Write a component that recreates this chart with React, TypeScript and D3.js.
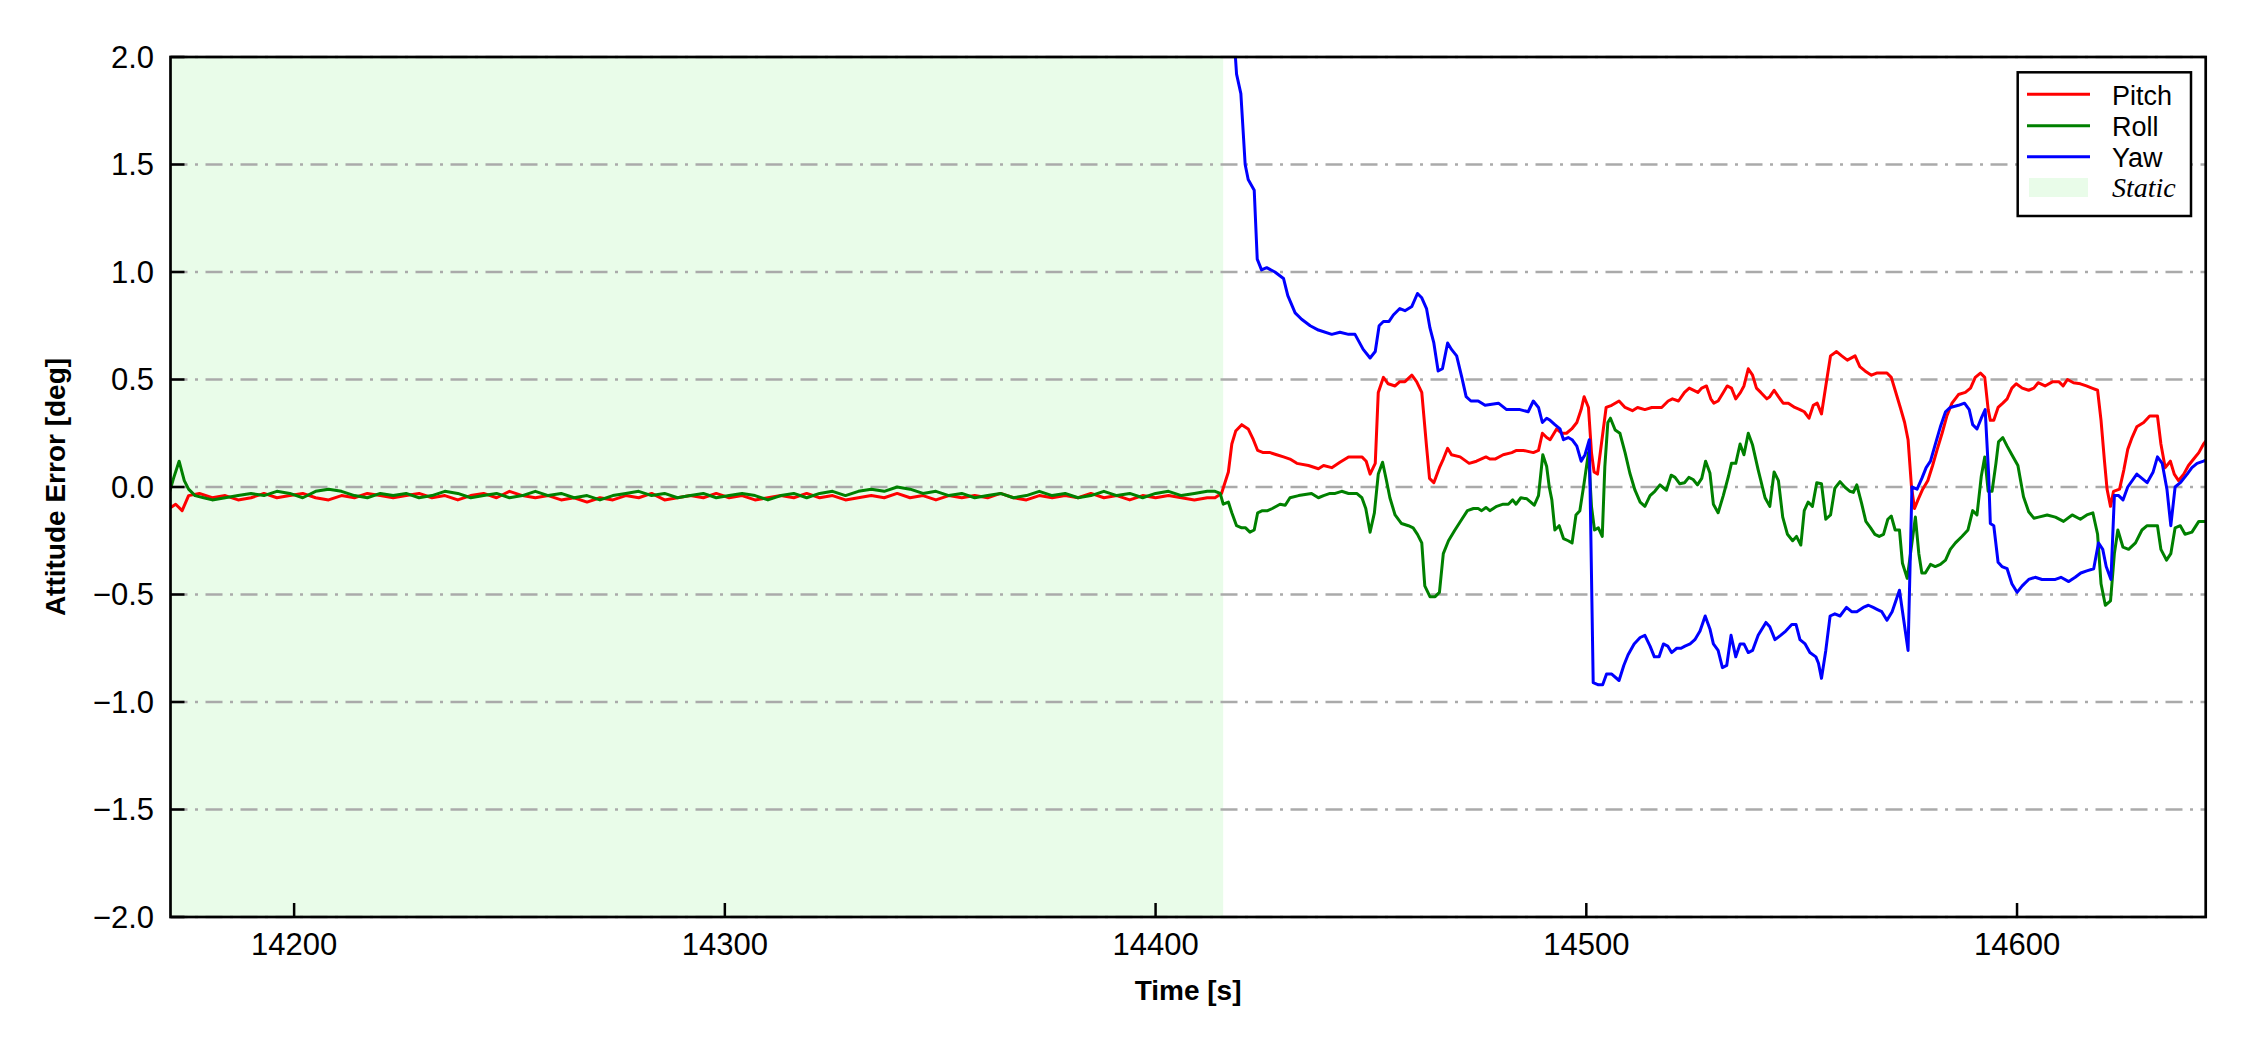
import React from "react";
import * as d3 from "d3";

type P = [number, number];

const xTicks = [14200, 14300, 14400, 14500, 14600];
const yTicks = [-2.0, -1.5, -1.0, -0.5, 0.0, 0.5, 1.0, 1.5, 2.0];
const staticSpan: P = [14171.3, 14415.7];
const xDomain: P = [14171.3, 14643.8];
const yDomain: P = [-2, 2];

const pitch: P[] = [
[14171,-0.10],[14172.5,-0.08],[14174,-0.11],[14175.5,-0.04],[14178,-0.03],[14181,-0.05],[14184,-0.04],[14187,-0.06],[14190,-0.05],[14193,-0.03],[14196,-0.05],[14199,-0.04],[14202,-0.03],[14205,-0.05],[14208,-0.06],[14211,-0.04],[14214,-0.05],[14217,-0.03],[14220,-0.04],[14223,-0.05],[14226,-0.04],[14229,-0.03],[14232,-0.05],[14235,-0.04],[14238,-0.06],[14241,-0.04],[14244,-0.03],[14247,-0.05],[14250,-0.02],[14253,-0.04],[14256,-0.05],[14259,-0.04],[14262,-0.06],[14265,-0.05],[14268,-0.07],[14271,-0.05],[14274,-0.06],[14277,-0.04],[14280,-0.05],[14283,-0.03],[14286,-0.06],[14289,-0.05],[14292,-0.04],[14295,-0.05],[14298,-0.03],[14301,-0.05],[14304,-0.04],[14307,-0.06],[14310,-0.05],[14313,-0.04],[14316,-0.05],[14319,-0.03],[14322,-0.05],[14325,-0.04],[14328,-0.06],[14331,-0.05],[14334,-0.04],[14337,-0.05],[14340,-0.03],[14343,-0.05],[14346,-0.04],[14349,-0.06],[14352,-0.04],[14355,-0.05],[14358,-0.04],[14361,-0.05],[14364,-0.03],[14367,-0.05],[14370,-0.06],[14373,-0.04],[14376,-0.05],[14379,-0.04],[14382,-0.05],[14385,-0.03],[14388,-0.05],[14391,-0.04],[14394,-0.06],[14397,-0.04],[14400,-0.05],[14403,-0.04],[14406,-0.05],[14409,-0.06],[14412,-0.05],
[14413.8,-0.05],[14415.3,-0.03],[14416.9,0.07],[14417.7,0.20],[14418.6,0.26],[14420,0.29],[14421.5,0.27],[14422.7,0.22],[14423.7,0.17],[14425,0.16],[14426.6,0.16],[14428.1,0.15],[14429.7,0.14],[14431.2,0.13],[14432.8,0.11],[14435.5,0.10],[14437.8,0.085],[14439,0.10],[14440.9,0.09],[14442.8,0.115],[14444.8,0.14],[14446.3,0.14],[14447.9,0.14],[14448.9,0.12],[14449.8,0.06],[14451,0.11],[14451.7,0.44],[14452.9,0.51],[14454,0.48],[14455.6,0.47],[14456.7,0.49],[14457.9,0.49],[14459.5,0.52],[14460.6,0.49],[14461.8,0.44],[14462.9,0.19],[14463.6,0.04],[14464.6,0.02],[14465.9,0.09],[14466.8,0.13],[14467.8,0.18],[14468.7,0.15],[14470.7,0.14],[14472.8,0.11],[14474.5,0.12],[14476.7,0.14],[14477.6,0.13],[14478.8,0.13],[14480.7,0.15],[14482.7,0.16],[14483.8,0.17],[14485.4,0.17],[14487.7,0.16],[14488.9,0.17],[14489.8,0.25],[14490.8,0.23],[14491.6,0.22],[14493.1,0.27],[14494.3,0.25],[14495.4,0.25],[14496.6,0.27],[14497.8,0.30],[14498.8,0.36],[14499.5,0.42],[14500.5,0.37],[14501.2,0.16],[14501.8,0.07],[14502.6,0.06],[14503.7,0.23],[14504.6,0.37],[14505.9,0.38],[14507.6,0.40],[14509,0.37],[14510.7,0.355],[14511.9,0.37],[14513.6,0.36],[14515.2,0.37],[14517.5,0.37],[14519,0.40],[14520,0.41],[14521.4,0.40],[14522.8,0.44],[14523.9,0.46],[14525.9,0.44],[14526.8,0.46],[14527.9,0.47],[14528.9,0.41],[14529.6,0.39],[14530.6,0.40],[14531.8,0.44],[14532.7,0.47],[14533.7,0.46],[14534.7,0.41],[14535.8,0.44],[14536.6,0.47],[14537.6,0.55],[14538.6,0.52],[14539.5,0.46],[14540.5,0.44],[14541.9,0.41],[14542.6,0.42],[14543.6,0.45],[14544.6,0.42],[14545.7,0.39],[14546.9,0.39],[14548.4,0.37],[14549.6,0.36],[14550.6,0.35],[14551.7,0.32],[14552.7,0.38],[14553.6,0.39],[14554.6,0.34],[14555.6,0.47],[14556.7,0.61],[14558.1,0.63],[14559.3,0.61],[14560.6,0.59],[14562.4,0.61],[14563.5,0.56],[14564.7,0.54],[14566.2,0.52],[14567.4,0.53],[14568.3,0.53],[14569.8,0.53],[14570.8,0.51],[14571.7,0.45],[14572.9,0.37],[14573.9,0.30],[14574.7,0.22],[14575.5,0.0],[14576.2,-0.10],[14577,-0.06],[14578.1,-0.01],[14579.3,0.03],[14580.4,0.10],[14581.4,0.17],[14582.6,0.25],[14583.7,0.33],[14584.9,0.39],[14586.4,0.43],[14588,0.44],[14589.2,0.46],[14590.3,0.51],[14591.5,0.53],[14592.5,0.51],[14593.3,0.36],[14593.8,0.31],[14594.6,0.31],[14595.6,0.37],[14596.7,0.39],[14597.7,0.41],[14598.8,0.46],[14599.8,0.48],[14601.2,0.46],[14602.7,0.45],[14603.9,0.46],[14604.9,0.485],[14606.5,0.47],[14608.3,0.49],[14609.7,0.49],[14610.7,0.47],[14611.7,0.50],[14613.1,0.485],[14614.7,0.48],[14616.1,0.47],[14617.4,0.46],[14618.7,0.45],[14619.5,0.31],[14620.3,0.12],[14620.9,-0.01],[14621.7,-0.09],[14622.4,-0.02],[14623.8,-0.01],[14624.8,0.08],[14625.7,0.175],[14626.7,0.23],[14627.8,0.28],[14629.4,0.30],[14630.8,0.33],[14632.6,0.33],[14633.4,0.20],[14634.4,0.09],[14635.6,0.12],[14636.5,0.06],[14637.5,0.03],[14638.7,0.06],[14639.8,0.10],[14641,0.13],[14642.2,0.16],[14643.3,0.20],[14644.5,0.23]
];

const roll: P[] = [
[14171,-0.03],[14172,0.04],[14173.3,0.12],[14174.5,0.03],[14175.5,-0.01],[14177,-0.04],[14179,-0.05],[14181,-0.06],[14184,-0.05],[14187,-0.04],[14190,-0.03],[14193,-0.04],[14196,-0.02],[14199,-0.03],[14202,-0.05],[14205,-0.02],[14208,-0.01],[14211,-0.02],[14214,-0.04],[14217,-0.05],[14220,-0.03],[14223,-0.04],[14226,-0.03],[14229,-0.05],[14232,-0.04],[14235,-0.02],[14238,-0.03],[14241,-0.05],[14244,-0.04],[14247,-0.03],[14250,-0.05],[14253,-0.04],[14256,-0.02],[14259,-0.04],[14262,-0.03],[14265,-0.05],[14268,-0.04],[14271,-0.06],[14274,-0.04],[14277,-0.03],[14280,-0.02],[14283,-0.04],[14286,-0.03],[14289,-0.05],[14292,-0.04],[14295,-0.03],[14298,-0.05],[14301,-0.04],[14304,-0.03],[14307,-0.04],[14310,-0.06],[14313,-0.04],[14316,-0.03],[14319,-0.05],[14322,-0.03],[14325,-0.02],[14328,-0.04],[14331,-0.02],[14334,-0.01],[14337,-0.02],[14340,0.0],[14343,-0.01],[14346,-0.03],[14349,-0.02],[14352,-0.04],[14355,-0.03],[14358,-0.05],[14361,-0.04],[14364,-0.03],[14367,-0.05],[14370,-0.04],[14373,-0.02],[14376,-0.04],[14379,-0.03],[14382,-0.05],[14385,-0.04],[14388,-0.02],[14391,-0.04],[14394,-0.03],[14397,-0.05],[14400,-0.03],[14403,-0.02],[14406,-0.04],[14409,-0.03],[14412,-0.02],
[14413.8,-0.02],[14415,-0.03],[14415.7,-0.08],[14416.9,-0.07],[14417.7,-0.12],[14418.8,-0.18],[14420,-0.19],[14420.9,-0.19],[14421.9,-0.21],[14422.9,-0.20],[14423.7,-0.12],[14424.8,-0.11],[14426,-0.11],[14427.1,-0.10],[14428.9,-0.08],[14430.1,-0.085],[14431.2,-0.05],[14433.2,-0.04],[14436.2,-0.03],[14437.8,-0.05],[14439,-0.04],[14440.5,-0.03],[14441.7,-0.03],[14443.2,-0.02],[14444.8,-0.03],[14446.7,-0.03],[14447.9,-0.05],[14448.8,-0.10],[14449.8,-0.21],[14450.8,-0.12],[14451.7,0.06],[14452.7,0.115],[14453.6,0.03],[14454.4,-0.05],[14455.6,-0.13],[14457.1,-0.17],[14458.7,-0.18],[14459.8,-0.19],[14460.8,-0.22],[14461.8,-0.26],[14462.5,-0.46],[14463.7,-0.51],[14464.9,-0.51],[14465.9,-0.49],[14466.8,-0.31],[14468,-0.25],[14469.5,-0.20],[14471.1,-0.15],[14472.4,-0.11],[14473.8,-0.10],[14474.9,-0.10],[14475.7,-0.11],[14476.7,-0.095],[14477.6,-0.11],[14479.2,-0.09],[14480.7,-0.08],[14481.9,-0.08],[14482.9,-0.06],[14483.7,-0.08],[14484.8,-0.05],[14486.2,-0.055],[14487.1,-0.07],[14487.9,-0.085],[14488.9,-0.04],[14489.9,0.15],[14490.8,0.095],[14491.4,0.0],[14492,-0.06],[14492.7,-0.20],[14493.7,-0.18],[14494.7,-0.24],[14495.8,-0.25],[14496.7,-0.26],[14497.6,-0.13],[14498.5,-0.11],[14499.5,0.02],[14500.5,0.16],[14501.2,-0.09],[14501.9,-0.20],[14502.8,-0.19],[14503.7,-0.23],[14504.3,0.095],[14505,0.30],[14505.6,0.32],[14506.7,0.265],[14507.8,0.25],[14509,0.16],[14510.1,0.065],[14511.3,-0.015],[14512.5,-0.07],[14513.6,-0.09],[14514.8,-0.04],[14515.9,-0.02],[14517.1,0.01],[14518.6,-0.015],[14519.7,0.055],[14520.6,0.045],[14521.7,0.015],[14522.8,0.02],[14523.8,0.045],[14524.8,0.035],[14525.8,0.01],[14526.8,0.04],[14527.7,0.12],[14528.7,0.065],[14529.5,-0.08],[14530.6,-0.12],[14531.8,-0.04],[14533,0.05],[14533.7,0.11],[14534.7,0.11],[14535.7,0.20],[14536.6,0.15],[14537.6,0.25],[14538.6,0.195],[14539.9,0.08],[14541.5,-0.05],[14542.6,-0.09],[14543.6,0.07],[14544.6,0.03],[14545.6,-0.14],[14546.7,-0.22],[14547.9,-0.25],[14548.8,-0.23],[14549.8,-0.27],[14550.6,-0.11],[14551.5,-0.07],[14552.5,-0.09],[14553.5,0.02],[14554.6,0.015],[14555.6,-0.15],[14556.7,-0.13],[14557.7,-0.006],[14558.9,0.025],[14560,0.0],[14561.2,-0.02],[14562,-0.025],[14562.8,0.01],[14563.9,-0.075],[14564.9,-0.16],[14566,-0.19],[14567,-0.22],[14568,-0.23],[14569,-0.22],[14570,-0.15],[14570.8,-0.135],[14571.7,-0.20],[14572.7,-0.20],[14573.4,-0.355],[14574.5,-0.425],[14576.4,-0.14],[14577.2,-0.31],[14577.9,-0.40],[14578.7,-0.40],[14579.9,-0.36],[14581,-0.37],[14582.2,-0.36],[14583.4,-0.34],[14584.5,-0.29],[14585.7,-0.26],[14587.2,-0.23],[14588.6,-0.20],[14589.7,-0.11],[14590.7,-0.13],[14591.7,0.05],[14592.5,0.14],[14593.3,-0.02],[14594.2,-0.02],[14595.1,0.11],[14595.7,0.21],[14596.7,0.23],[14597.7,0.19],[14598.8,0.15],[14600.2,0.10],[14601.5,-0.045],[14602.7,-0.115],[14603.9,-0.145],[14605,-0.14],[14607,-0.13],[14608.9,-0.14],[14610.8,-0.16],[14612.8,-0.13],[14614.7,-0.15],[14616.2,-0.13],[14617.6,-0.12],[14618.7,-0.22],[14619.5,-0.45],[14620.5,-0.55],[14621.7,-0.53],[14622.6,-0.31],[14623.4,-0.20],[14624.6,-0.28],[14625.9,-0.29],[14627.5,-0.26],[14629,-0.20],[14630.2,-0.18],[14632.6,-0.18],[14633.4,-0.29],[14634.7,-0.34],[14635.7,-0.31],[14636.7,-0.19],[14637.9,-0.18],[14639,-0.22],[14640.6,-0.21],[14642.2,-0.16],[14644.5,-0.16]
];

const yaw: P[] = [
[14418.2,2.1],[14418.8,1.92],[14419.8,1.83],[14420.8,1.50],[14421.5,1.43],[14422.9,1.38],[14423.6,1.06],[14424.6,1.01],[14425.8,1.02],[14427.7,1.00],[14429.7,0.97],[14430.7,0.89],[14432.4,0.81],[14433.9,0.78],[14435.9,0.75],[14437.8,0.73],[14440.9,0.71],[14442.8,0.72],[14444.8,0.71],[14446.3,0.71],[14448.2,0.64],[14449.8,0.60],[14451,0.63],[14451.9,0.75],[14452.9,0.77],[14454.2,0.77],[14455.2,0.80],[14456.7,0.83],[14457.9,0.82],[14459.5,0.84],[14460.8,0.90],[14461.8,0.88],[14462.9,0.83],[14463.7,0.74],[14464.6,0.67],[14465.6,0.54],[14466.6,0.55],[14467.8,0.67],[14468.7,0.64],[14469.9,0.61],[14471.1,0.51],[14472.1,0.42],[14473.2,0.40],[14474.9,0.40],[14476.5,0.38],[14479.6,0.39],[14481.5,0.36],[14483.1,0.36],[14484.6,0.36],[14486.5,0.35],[14487.7,0.40],[14488.9,0.37],[14489.8,0.30],[14490.8,0.32],[14491.6,0.31],[14492.7,0.29],[14493.9,0.27],[14494.7,0.22],[14495.8,0.23],[14496.7,0.22],[14497.8,0.19],[14498.8,0.12],[14499.7,0.15],[14500.7,0.22],[14501.6,-0.91],[14502.8,-0.92],[14503.8,-0.92],[14504.7,-0.87],[14505.9,-0.87],[14507.6,-0.90],[14508.7,-0.83],[14509.7,-0.78],[14511.1,-0.73],[14512.5,-0.70],[14513.6,-0.69],[14514.8,-0.74],[14515.8,-0.79],[14516.9,-0.79],[14517.9,-0.73],[14518.9,-0.74],[14519.8,-0.77],[14521,-0.75],[14522,-0.75],[14522.9,-0.74],[14524.1,-0.73],[14525.2,-0.71],[14526.4,-0.67],[14527.6,-0.60],[14528.7,-0.66],[14529.5,-0.73],[14530.6,-0.76],[14531.6,-0.84],[14532.6,-0.83],[14533.6,-0.69],[14534.7,-0.79],[14535.7,-0.73],[14536.6,-0.73],[14537.6,-0.77],[14538.6,-0.76],[14539.9,-0.69],[14541.7,-0.63],[14542.6,-0.65],[14543.8,-0.71],[14545.1,-0.69],[14546.3,-0.67],[14547.7,-0.64],[14548.7,-0.64],[14549.6,-0.71],[14550.8,-0.73],[14551.9,-0.77],[14553.3,-0.79],[14553.9,-0.82],[14554.6,-0.89],[14555.6,-0.76],[14556.6,-0.60],[14557.7,-0.59],[14558.9,-0.60],[14560.4,-0.56],[14561.6,-0.58],[14562.8,-0.58],[14564.3,-0.56],[14565.5,-0.55],[14566.6,-0.56],[14567.6,-0.57],[14568.6,-0.58],[14569.8,-0.62],[14571,-0.58],[14572.7,-0.48],[14573.7,-0.62],[14574.7,-0.76],[14575.6,0.0],[14576.8,-0.01],[14577.9,0.04],[14578.9,0.09],[14579.9,0.12],[14580.9,0.19],[14582.2,0.28],[14583.4,0.35],[14584.5,0.37],[14586.4,0.38],[14587.8,0.39],[14588.9,0.36],[14589.7,0.29],[14590.7,0.27],[14591.7,0.32],[14592.6,0.36],[14593.4,0.06],[14593.8,-0.17],[14594.6,-0.18],[14595.6,-0.35],[14596.5,-0.37],[14597.7,-0.38],[14598.8,-0.45],[14600,-0.49],[14601.2,-0.46],[14602.7,-0.43],[14604.2,-0.42],[14605.8,-0.43],[14607.3,-0.43],[14608.9,-0.43],[14610.2,-0.42],[14612,-0.44],[14613.5,-0.42],[14614.8,-0.40],[14616.2,-0.39],[14617.8,-0.38],[14618.9,-0.26],[14619.9,-0.29],[14620.7,-0.37],[14621.8,-0.43],[14622.6,-0.04],[14623.6,-0.04],[14624.6,-0.06],[14625.7,0.0],[14627.8,0.06],[14629,0.04],[14630.2,0.02],[14631.6,0.07],[14632.6,0.14],[14633.7,0.11],[14634.8,-0.01],[14635.7,-0.18],[14636.7,0.0],[14637.9,0.02],[14639.5,0.06],[14640.6,0.09],[14641.8,0.11],[14643.3,0.12],[14644.5,0.13]
];

const seriesNames = ["Pitch", "Roll", "Yaw"];
const seriesColors = ["#ff0000", "#008000", "#0000ff"];
const allSeries = [pitch, roll, yaw];

const W = 2250, H = 1050;
const L = 170.5, R = 2205.7, T = 57, B = 917;

const fmt = (v: number) => (v < 0 ? "\u2212" : "") + Math.abs(v).toFixed(1);

export default function App() {
  const x = d3.scaleLinear().domain(xDomain).range([L, R]);
  const y = d3.scaleLinear().domain(yDomain).range([B, T]);
  const line = d3.line<P>().x(d => x(d[0])).y(d => y(d[1]));
  const sans = "Arial, 'Liberation Sans', Helvetica, sans-serif";
  const legX = 2017.7, legY = 72.3, legW = 173.3, legH = 143.7;
  const legRows = [94.3, 125.7, 156.7];
  return (
    <svg width={W} height={H} style={{ position: "absolute", left: 0, top: 0, background: "#fff" }} fontFamily={sans}>
      <defs>
        <clipPath id="plotclip">
          <rect x={L} y={T} width={R - L} height={B - T} />
        </clipPath>
      </defs>
      <rect x={0} y={0} width={W} height={H} fill="#fff" />
      <rect x={x(staticSpan[0])} y={T} width={x(staticSpan[1]) - x(staticSpan[0])} height={B - T} fill="#e9fce9" />
      {yTicks.map(t => (
        <line key={"g" + t} x1={L} x2={R} y1={y(t)} y2={y(t)} stroke="#aaaaaa" strokeWidth={2.4} strokeDasharray="17,7.5,3,7.5" />
      ))}
      <g clipPath="url(#plotclip)">
        {allSeries.map((s, i) => (
          <path key={seriesNames[i]} d={line(s) || ""} fill="none" stroke={seriesColors[i]} strokeWidth={3} strokeLinejoin="round" />
        ))}
      </g>
      {yTicks.map(t => (
        <g key={"yt" + t}>
          <line x1={L} x2={L + 14} y1={y(t)} y2={y(t)} stroke="#000" strokeWidth={2.5} />
          <text x={154} y={y(t)} dy="0.35em" textAnchor="end" fontSize={31} fill="#000">{fmt(t)}</text>
        </g>
      ))}
      {xTicks.map(t => (
        <g key={"xt" + t}>
          <line x1={x(t)} x2={x(t)} y1={B} y2={B - 14} stroke="#000" strokeWidth={2.5} />
          <text x={x(t)} y={955} textAnchor="middle" fontSize={31} fill="#000">{t}</text>
        </g>
      ))}
      <rect x={L} y={T} width={R - L} height={B - T} fill="none" stroke="#000" strokeWidth={2.7} />
      <text x={(L + R) / 2} y={1000} textAnchor="middle" fontSize={28} fontWeight="bold">Time [s]</text>
      <text transform={`translate(65, ${(T + B) / 2}) rotate(-90)`} textAnchor="middle" fontSize={28} fontWeight="bold">Attitude Error [deg]</text>
      <g>
        <rect x={legX} y={legY} width={legW} height={legH} fill="#fff" stroke="#000" strokeWidth={2.5} />
        {seriesNames.map((n, i) => (
          <g key={"leg" + n}>
            <line x1={2027} x2={2090} y1={legRows[i]} y2={legRows[i]} stroke={seriesColors[i]} strokeWidth={3} />
            <text x={2112} y={legRows[i] + 10.5} fontSize={27}>{n}</text>
          </g>
        ))}
        <rect x={2029} y={178} width={59} height={19} fill="#e9fce9" />
        <text x={2112} y={196.5} fontSize={28} fontStyle="italic" fontFamily="'Liberation Serif', 'Times New Roman', serif">Static</text>
      </g>
    </svg>
  );
}
